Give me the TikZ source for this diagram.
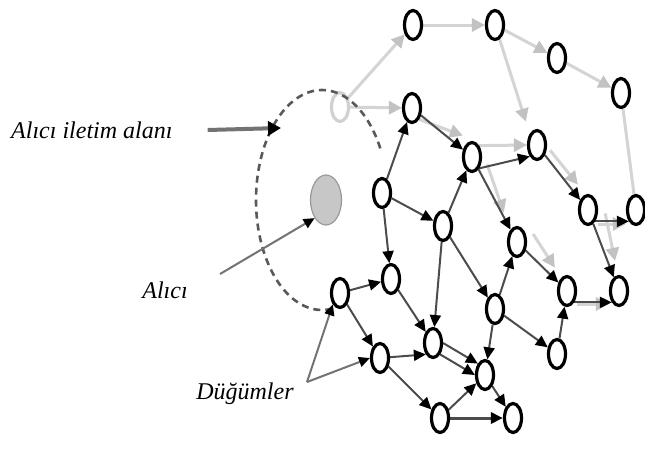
\documentclass[tikz,border=0pt]{standalone}
\usepackage{fontspec}
\setmainfont{Liberation Serif}
\usetikzlibrary{arrows.meta,shapes.geometric}
\pgfdeclarelayer{paper}
\pgfdeclarelayer{links}
\pgfsetlayers{paper,links,main}

\begin{document}
\begin{tikzpicture}[x=1pt,y=-1pt,
  sensor/.style={ellipse,draw=black,line width=3.2pt,fill=white,
    minimum width=17pt,minimum height=29pt,inner sep=0pt},
  faded/.style={sensor,draw=black!18},
  receiver/.style={ellipse,draw=black!40,line width=1.2pt,fill=black!22,
    minimum width=31pt,minimum height=50pt,inner sep=0pt},
  link/.style={draw=black!70,line width=2pt,
    -{Triangle[length=12pt,width=11pt,color=black]}},
  shade/.style={draw=black!17,line width=3pt,
    -{Triangle[length=13pt,width=13pt,color=black!24]}},
  pointer/.style={draw=black!55,line width=2pt,
    -{Triangle[length=11pt,width=10pt,color=black]}},
  caption/.style={font=\fontsize{24}{28}\selectfont\itshape,text=black,inner sep=0pt},
  rangeline/.style={draw=black!65,line width=2.6pt,dash pattern=on 7pt off 5pt}
]
\useasboundingbox (0,0) rectangle (645,450);
\begin{pgfonlayer}{paper}
  \fill[white] (0,0) rectangle (645,450);
\end{pgfonlayer}

% sensor nodes
\node[faded]  (L0)  at (340,107) {};
\node[sensor] (T1)  at (413,25)  {};
\node[sensor] (T2)  at (495,25)  {};
\node[sensor] (T3)  at (557,58)  {};
\node[sensor] (T4)  at (621,93)  {};
\node[sensor] (N1)  at (412,108) {};
\node[sensor] (N2)  at (472,157) {};
\node[sensor] (N3)  at (537,145) {};
\node[sensor] (N4)  at (382,193) {};
\node[sensor] (N5)  at (636,210) {};
\node[sensor] (N6)  at (588,210) {};
\node[sensor] (N7)  at (443,226) {};
\node[sensor] (N8)  at (517,242) {};
\node[sensor] (N9)  at (619,291) {};
\node[sensor] (N10) at (567,291) {};
\node[sensor] (N11) at (391,279) {};
\node[sensor] (N12) at (340,293) {};
\node[sensor] (N13) at (495,309) {};
\node[sensor] (N14) at (433,343) {};
\node[sensor] (N15) at (380,358) {};
\node[sensor] (N16) at (485,375) {};
\node[sensor] (N17) at (557,354) {};
\node[sensor] (N18) at (440,418) {};
\node[sensor] (N19) at (513,418) {};

% receiver
\node[receiver] (rx) at (326,200) {};

\begin{pgfonlayer}{links}
  % faded links
  \draw[shade] (L0) -- (T1);
  \draw[shade] (L0) -- (N1);
  \draw[shade] (T1) -- (T2);
  \draw[shade] (T2) -- (T3);
  \draw[shade] (T3) -- (T4);
  \draw[shade] (T2) -- ([shift={(-4,-12)}]N3.north west);
  \draw[shade] (T4) -- ([yshift=-16]N5.north);
  \draw[shade] (N1.south east) -- ([shift={(-2,-10)}]N2.north west);
  \draw[shade] (N2.north east) -- (N3.west);
  \draw[shade] ([shift={(6,-6)}]N3.south east) -- ([shift={(-3,-14)}]N6.north west);
  \draw[shade] ([yshift=-14]N6.east) -- ([yshift=-14]N5.west);
  \draw[shade] ([shift={(8,-4)}]N2.south east) -- ([shift={(-6,-18)}]N8.north west);
  \draw[shade] ([shift={(6,-8)}]N8.east) -- ([shift={(-5,-12)}]N10.north west);
  \draw[shade] ([yshift=-13]N10.east) -- ([yshift=-13]N9.west);
  \draw[shade] ([shift={(10,-8)}]N6.south east) -- ([shift={(-4,-14)}]N9.north);

  % active links
  \draw[link] (N1) -- (N2);
  \draw[link] (N4) -- (N1);
  \draw[link] (N2.south east) -- (N3.south west);
  \draw[link] (N4) -- (N7);
  \draw[link] (N7) -- (N2);
  \draw[link] (N2) -- (N8);
  \draw[link] (N4) -- (N11);
  \draw[link] (N12) -- (N11);
  \draw[link] (N7) -- (N13);
  \draw[link] (N13) -- (N8);
  \draw[link] (N8) -- (N10);
  \draw[link] (N3) -- (N6);
  \draw[link] (N6.south east) -- (N5.south west);
  \draw[link] (N6) -- (N9);
  \draw[link] (N10.south east) -- (N9.south west);
  \draw[link] (N17) -- (N10);
  \draw[link] (N13) -- (N17);
  \draw[link] (N13) -- (N16);
  \draw[link] (N11) -- (N14);
  \draw[link] (N7) -- (N14);
  \draw[link] (N12) -- (N15);
  \draw[link] (N15) -- (N14.south west);
  \draw[link] (N14.east) -- (N16.north west);
  \draw[link] (N14.south east) -- (N16.west);
  \draw[link] (N15) -- (N18);
  \draw[link] (N18) -- (N16);
  \draw[link,line width=3pt] (N18) -- (N19);
  \draw[link] (N16) -- (N19);
\end{pgfonlayer}

% transmission range of the receiver
\draw[rangeline] plot[domain=28:280,samples=90,smooth]
  ({322+66*cos(\x)},{200-110*sin(\x)});

% captions and pointers
\node[caption,anchor=west] (txtRange) at (11,130) {Alıcı iletim alanı};
\coordinate (rangePt) at (281,128);
\draw[pointer,line width=4pt,-{Triangle[length=13pt,width=14pt,color=black]}]
  ([xshift=35]txtRange.east) -- (rangePt);

\node[caption] (txtRx) at (165,290) {Alıcı};
\draw[pointer] ([shift={(55,-16)}]txtRx.center) -- (rx.south west);

\node[caption] (txtNodes) at (245,394) {Düğümler};
\coordinate (fork) at (307,382);
\draw[pointer] (fork) -- (N12.south west);
\draw[pointer] (fork) -- (N15.west);
\end{tikzpicture}
\end{document}
